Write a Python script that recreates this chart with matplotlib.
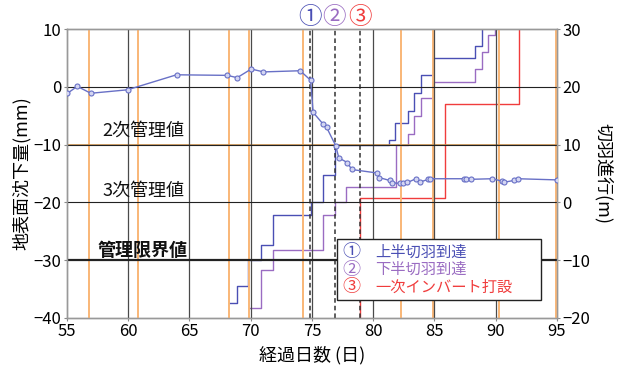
import matplotlib
matplotlib.use('Agg')
import matplotlib.pyplot as plt
from matplotlib.patches import Rectangle
from matplotlib.transforms import blended_transform_factory

plt.rcParams['font.family'] = ['Noto Sans CJK JP', 'DejaVu Sans']

# surface settlement (mm), left axis
settle_days = [55.05, 55.85, 56.95, 59.95, 63.95, 68.1, 68.9, 70.05, 71.05, 74.05,
               74.9, 75.1, 75.9, 76.2, 76.95, 77.2, 77.9, 78.25, 80.3, 80.5,
               81.35, 81.5, 82.2, 82.45, 82.8, 83.5, 83.8, 84.5, 84.65, 87.4,
               87.6, 88.0, 89.7, 90.5, 90.7, 91.5, 91.8, 95.0]
settle_mm = [-1.1, 0.1, -1.1, -0.5, 2.1, 2.0, 1.6, 3.1, 2.6, 2.8,
             1.15, -4.4, -6.4, -7.0, -10.2, -12.3, -13.1, -14.3, -14.9, -15.7,
             -16.2, -16.6, -16.7, -16.7, -16.55, -15.9, -16.5, -16.0, -15.9, -15.9,
             -15.9, -16.0, -15.9, -16.3, -16.5, -16.2, -15.9, -16.1]

# face advance (m), right axis, step-post
upper_days = [68.2, 68.85, 69.8, 70.85, 71.85, 74.9, 75.9, 76.9, 81.3, 81.8,
              82.85, 83.35, 83.9, 84.9, 88.3, 88.85]
upper_m = [-17.4, -14.4, -10.0, -7.3, -2.2, 0.0, 4.8, 10.0, 10.75, 13.8,
           15.8, 18.9, 22.0, 25.0, 27.0, 32.0]
lower_days = [69.9, 70.85, 71.85, 75.9, 76.9, 77.8, 81.85, 82.85, 83.35, 83.9,
              84.9, 88.3, 88.85, 89.4, 89.95]
lower_m = [-18.35, -11.7, -8.3, -2.2, 0.0, 2.75, 10.0, 11.9, 14.9, 18.0,
           20.9, 23.1, 26.1, 29.0, 32.0]
invert_days = [78.9, 78.9, 85.9, 91.9]
invert_m = [-21.0, 0.8, 17.0, 32.0]

# orange marker days, event days, control levels
orange_days = [56.8, 60.8, 68.2, 69.9, 74.3, 82.3, 84.9, 90.3, 94.9]
event_days = [74.85, 76.85, 78.95]
event_marks = ['①', '②', '③']
level_labels = ['2次管理値', '3次管理値', '管理限界値']
legend_texts = ['上半切羽到達', '下半切羽到達', '一次インバート打設']

C_UP = '#4a4fb4'
C_LO = '#9a6cc2'
C_INV = '#f03c3c'
C_SET = '#6870c6'
C_ORANGE = '#f9b777'
C_GRID = '#4a4a4a'

fig = plt.figure(figsize=(6.25, 3.74), dpi=100)
ax = fig.add_axes([0.107, 0.150, 0.784, 0.772])
ax2 = ax.twinx()

ax.set_xlim(55, 95)
ax.set_ylim(-40, 10)
ax2.set_ylim(-20, 30)

# face advance steps (right axis, drawn underneath)
ax2.plot(upper_days, upper_m, drawstyle='steps-post', color=C_UP, lw=1.0, zorder=2)
ax2.plot(lower_days, lower_m, drawstyle='steps-post', color=C_LO, lw=1.0, zorder=2)
ax2.plot(invert_days, invert_m, drawstyle='steps-post', color=C_INV, lw=1.0, zorder=2)
for d in event_days:
    ax2.axvline(d, color='#333333', lw=1.1, ls=(0, (3, 2)), zorder=3)

ax.set_zorder(ax2.get_zorder() + 1)
ax.patch.set_visible(False)

# background lines
for d in orange_days:
    ax.axvline(d, color=C_ORANGE, lw=1.4, zorder=1)
for d in range(60, 95, 5):
    ax.axvline(d, color=C_GRID, lw=0.9, zorder=1.2)
ax.axhline(-10, color='#c8914f', lw=1.2, zorder=1.1)
for v in [0, -10, -20]:
    ax.axhline(v, color='#222222', lw=0.8, zorder=1.3)
ax.axhline(-30, color='#222222', lw=1.6, zorder=1.3)

ax.plot(settle_days, settle_mm, color=C_SET, lw=1.0, marker='o', ms=3.6,
        mfc='#d4d6f2', mec=C_SET, mew=0.8, zorder=4)

# control level labels
ax.text(57.9, -7.5, level_labels[0], fontsize=13, va='center', ha='left', color='#111111')
ax.text(57.9, -17.9, level_labels[1], fontsize=13, va='center', ha='left', color='#111111')
ax.text(57.5, -28.3, level_labels[2], fontsize=13, va='center', ha='left',
        fontweight='bold', color='#111111')

# event markers above the frame
trans = blended_transform_factory(ax.transData, ax.transAxes)
for d, m, c in zip(event_days, event_marks, [C_UP, C_LO, C_INV]):
    ax.text(d, 1.0, m, transform=trans, ha='center', va='bottom', fontsize=17,
            color=c, clip_on=False)

# legend box
ax.add_patch(Rectangle((0.551, 0.062), 0.416, 0.212, transform=ax.transAxes,
                       facecolor='white', edgecolor='#222222', lw=1.0, zorder=6))
for i, (m, t, c) in enumerate(zip(event_marks, legend_texts, [C_UP, C_LO, C_INV])):
    y = 0.228 - i * 0.061
    ax.text(0.581, y, m, transform=ax.transAxes, ha='center', va='center',
            fontsize=13, color=c, zorder=7)
    ax.text(0.630, y, t, transform=ax.transAxes, ha='left', va='center',
            fontsize=11, color=c, zorder=7)

ax.set_xticks(range(55, 96, 5))
ax.set_yticks(range(-40, 11, 10))
ax2.set_yticks(range(-20, 31, 10))
for a in (ax, ax2):
    a.tick_params(labelsize=12, length=2, color='#888888', pad=2)
    for s in a.spines.values():
        s.set_color('#999999')
        s.set_linewidth(1.0)

ax.set_xlabel('経過日数 (日)', fontsize=13, labelpad=4)
ax.set_ylabel('地表面沈下量(mm)', fontsize=13, labelpad=2)
ax2.set_ylabel('切羽進行(m)', fontsize=13, rotation=-90, labelpad=16)

fig.savefig('out.png', dpi=100)
